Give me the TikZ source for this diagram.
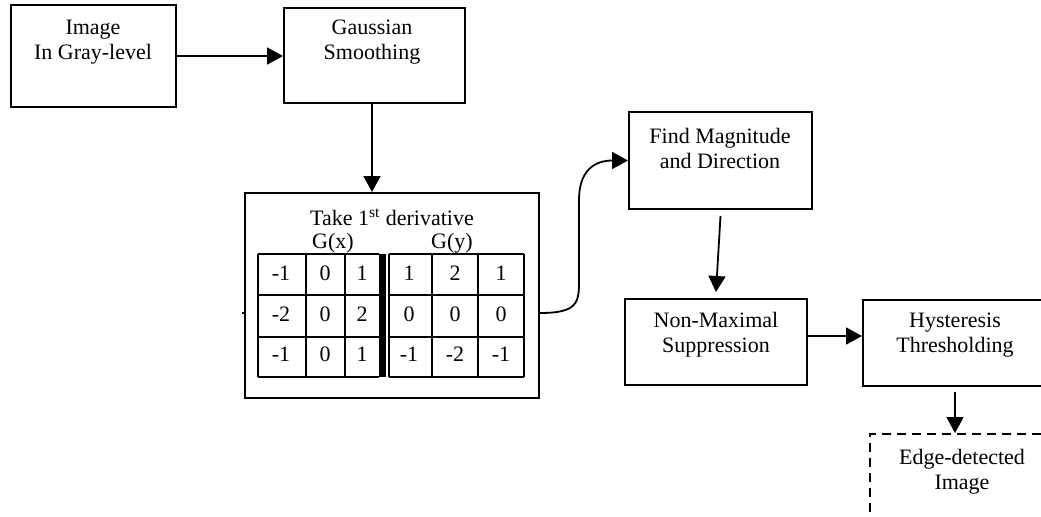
\documentclass[tikz,border=0pt]{standalone}
\usepackage{fontspec}
\setmainfont{Liberation Serif}
\usetikzlibrary{arrows.meta,fit}
\begin{document}
\begin{tikzpicture}[x=0.5pt,y=-0.5pt,
  box/.style={draw,line width=1pt,inner sep=0pt},
  txt/.style={align=center,inner sep=0pt,font=\fontsize{11}{12.5}\selectfont},
  cell/.style={inner sep=0pt,font=\fontsize{11}{12.5}\selectfont},
  arr/.style={-{Triangle[length=8pt,width=8.5pt]},line width=0.9pt},
  grid/.style={line width=0.6pt}]
\useasboundingbox (0,0) rectangle (1041,516);
\clip (0,0) rectangle (1041,516);
% boxes
\node[box,fit={(11,5)(176,107)}] (img) {};
\node[box,fit={(284,8)(465,103)}] (gauss) {};
\node[box,fit={(245,193)(539,398)}] (deriv) {};
\node[box,fit={(629,112)(812,209)}] (mag) {};
\node[box,fit={(625,299)(807,385)}] (nms) {};
\node[box,fit={(863,300)(1060,386)}] (hyst) {};
\node[box,dashed,dash pattern=on 4.5pt off 3pt,fit={(870,434)(1060,540)}] (edge) {};
% texts
\node[txt] (timg) at (93,42.5) {Image\\In Gray-level};
\node[txt] (tgauss) at (372,42.5) {Gaussian\\Smoothing};
\node[txt] (tderiv) at (392,217) {Take 1\textsuperscript{st} derivative};
\node[txt] (tgx) at (333,243) {G(x)};
\node[txt] (tgy) at (452,243) {G(y)};
\node[txt] (tmag) at (720,148.5) {Find Magnitude\\and Direction};
\node[txt] (tnms) at (716,334.5) {Non-Maximal\\Suppression};
\node[txt] (thyst) at (955,335.5) {Hysteresis\\Thresholding};
\node[txt] (tedge) at (962,471.5) {Edge-detected\\Image};
% table grid
\foreach \y in {254,295,337,377} {
  \draw[grid] (258,\y) -- (379,\y);
  \draw[grid] (389,\y) -- (524,\y);
}
\foreach \x in {258,306,345,389,432,478,524} {
  \draw[grid] (\x,254) -- (\x,377);
}
\fill (379,254) rectangle (386,377);
% table entries
\foreach \v [count=\i] in {-1,0,1} \node[cell] (a1\i) at ({\i==1 ? 281 : (\i==2 ? 325 : 362)},273) {\v};
\foreach \v [count=\i] in {-2,0,2} \node[cell] (a2\i) at ({\i==1 ? 281 : (\i==2 ? 325 : 362)},314) {\v};
\foreach \v [count=\i] in {-1,0,1} \node[cell] (a3\i) at ({\i==1 ? 281 : (\i==2 ? 325 : 362)},354) {\v};
\foreach \v [count=\i] in {1,2,1} \node[cell] (b1\i) at ({\i==1 ? 409 : (\i==2 ? 455 : 501)},273) {\v};
\foreach \v [count=\i] in {0,0,0} \node[cell] (b2\i) at ({\i==1 ? 409 : (\i==2 ? 455 : 501)},314) {\v};
\foreach \v [count=\i] in {-1,-2,-1} \node[cell] (b3\i) at ({\i==1 ? 409 : (\i==2 ? 455 : 501)},354) {\v};
% connectors
\draw[arr] (img.east) -- (img.east -| gauss.west);
\draw[arr] (gauss.south -| 372,0) -- (372,0 |- deriv.north);
\coordinate (cs) at (540,313);
\draw[arr] (cs) .. controls (582,313) and (579,300) .. (579,272) -- (579,200)
  .. controls (579,170) and (595,160.5) .. (mag.west);
\draw[arr] ([yshift=-3pt]mag.south) -- ([yshift=3pt]nms.north);
\coordinate (n1) at (807,336);
\draw[arr] (n1) -- (n1 -| hyst.west);
\coordinate (h1) at (955,392);
\draw[arr] (h1) -- (h1 |- edge.north);
\coordinate (t1) at (242,313);
\draw[line width=0.9pt] (t1) -- (t1 -| deriv.west);
\end{tikzpicture}
\end{document}
